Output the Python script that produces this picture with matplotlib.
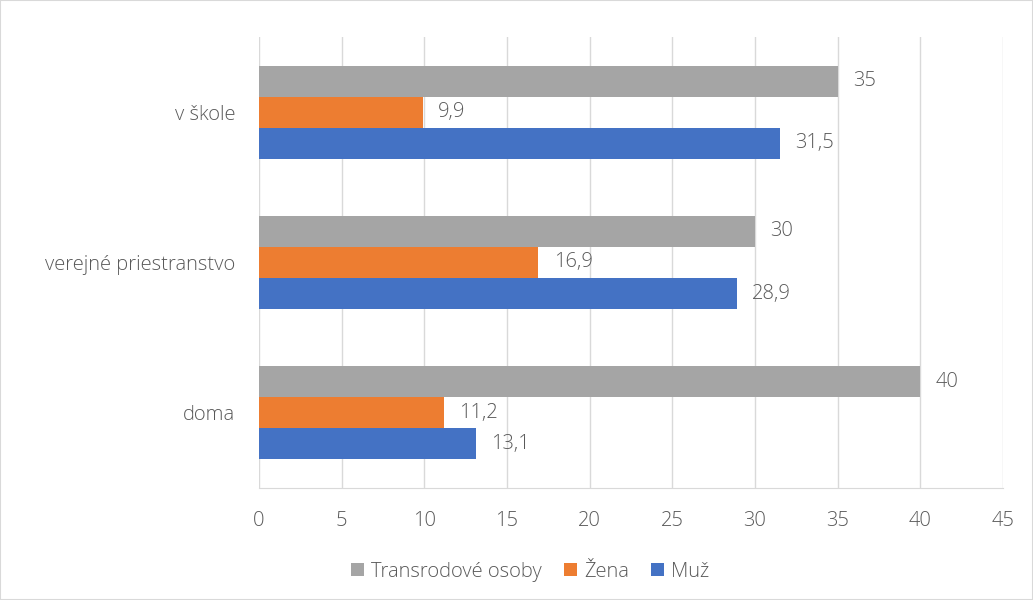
import numpy as np
import matplotlib.pyplot as plt
from matplotlib.patches import Rectangle

plt.rcParams['font.family'] = ['Open Sans', 'DejaVu Sans']

# categories from bottom to top
categories = ['doma', 'verejné priestranstvo', 'v škole']
series_names = ['Transrodové osoby', 'Žena', 'Muž']
trans = [40, 30, 35]
zena = [11.2, 16.9, 9.9]
muz = [13.1, 28.9, 31.5]
x_ticks = [0, 5, 10, 15, 20, 25, 30, 35, 40, 45]

colors = ['#A5A5A5', '#ED7D31', '#4472C4']
text_col = '#595959'
fs = 14.5

fig = plt.figure(figsize=(10.33, 6), dpi=100)
ax = fig.add_axes([0.2507, 0.187, 0.7203, 0.751])

y = np.arange(len(categories))
h = 0.207
offsets = [h, 0, -h]
for vals, off, col, name in zip([trans, zena, muz], offsets, colors, series_names):
    bars = ax.barh(y + off, vals, height=h, color=col, label=name, zorder=3)
    for b, v in zip(bars, vals):
        lab = ('%g' % v).replace('.', ',')
        ax.annotate(lab, (b.get_width(), b.get_y() + b.get_height() / 2),
                    xytext=(11, 0), textcoords='offset points', ha='left',
                    va='center', fontsize=fs, color=text_col, fontweight='light')

ax.set_xlim(0, 45)
ax.set_ylim(-0.5, 2.5)
ax.set_xticks(x_ticks)
ax.set_yticks(y)
ax.set_yticklabels(categories)
for t in ax.get_xticklabels() + ax.get_yticklabels():
    t.set_fontweight('light')
ax.tick_params(axis='both', length=0, labelsize=fs, colors=text_col)
ax.tick_params(axis='x', pad=17)
ax.tick_params(axis='y', pad=17)
ax.grid(axis='x', color='#D9D9D9', linewidth=1, zorder=0)
for s in ['top', 'right', 'left']:
    ax.spines[s].set_visible(False)
ax.spines['bottom'].set_color('#D9D9D9')

handles, labels = ax.get_legend_handles_labels()
leg = fig.legend(handles, labels, loc='center', bbox_to_anchor=(0.513, 0.047), ncol=3,
                 frameon=False, fontsize=fs, labelcolor=text_col, handlelength=0.65,
                 handleheight=0.65, handletextpad=0.35, columnspacing=1.1,
                 prop={'weight': 'light', 'size': fs})

fig.patches.append(Rectangle((0, 0), 1, 1, transform=fig.transFigure,
                             fill=False, edgecolor='#D9D9D9', linewidth=1.5))

fig.savefig('out.png', dpi=100)
